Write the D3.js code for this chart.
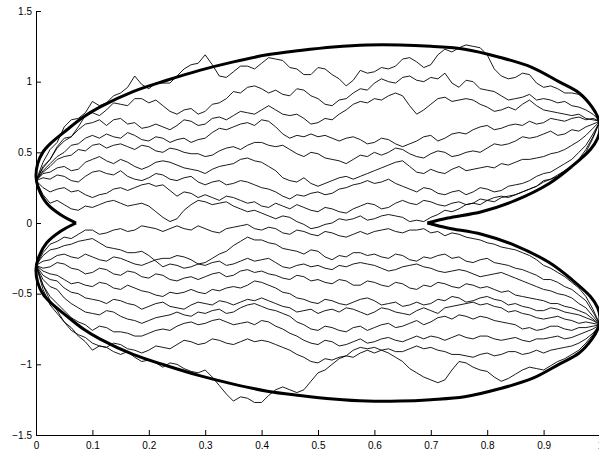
<!DOCTYPE html>
<html><head><meta charset="utf-8">
<script src="https://cdn.jsdelivr.net/npm/d3@7"></script>
<style>body{margin:0;background:#fff}svg{display:block}</style>
</head><body>
<svg id="chart" width="599" height="453"></svg>
<script>
// ---- data ----
const xTicks = [0,0.1,0.2,0.3,0.4,0.5,0.6,0.7,0.8,0.9,1];
const yTicks = [-1.5,-1,-0.5,0,0.5,1,1.5];
const xs = [
0,0.0125,0.025,0.0375,0.05,0.0625,0.075,0.0875,0.1,0.1125,
0.125,0.1375,0.15,0.1625,0.175,0.1875,0.2,0.2125,0.225,0.2375,
0.25,0.2625,0.275,0.2875,0.3,0.3125,0.325,0.3375,0.35,0.3625,
0.375,0.3875,0.4,0.4125,0.425,0.4375,0.45,0.4625,0.475,0.4875,
0.5,0.5125,0.525,0.5375,0.55,0.5625,0.575,0.5875,0.6,0.6125,
0.625,0.6375,0.65,0.6625,0.675,0.6875,0.7,0.7125,0.725,0.7375,
0.75,0.7625,0.775,0.7875,0.8,0.8125,0.825,0.8375,0.85,0.8625,
0.875,0.8875,0.9,0.9125,0.925,0.9375,0.95,0.9625,0.975,0.9875,
1];

const u1 = [
0.30,0.43,0.52,0.57,0.68,0.73,0.74,0.78,0.86,0.83,
0.85,0.90,0.92,0.96,1.04,0.98,0.95,0.99,0.99,0.99,
1.04,1.09,1.12,1.13,1.19,1.12,1.04,1.03,1.07,1.11,
1.11,1.09,1.13,1.17,1.16,1.15,1.10,1.09,1.05,1.05,
1.10,1.09,1.05,1.02,0.97,1.01,1.08,1.06,1.07,1.10,
1.09,1.11,1.16,1.17,1.14,1.10,1.12,1.19,1.23,1.21,
1.24,1.26,1.25,1.24,1.19,1.09,1.04,1.02,1.03,1.06,
1.05,0.99,0.96,0.97,0.95,0.92,0.92,0.91,0.87,0.82,
0.72];
const u2 = [
0.30,0.40,0.45,0.53,0.58,0.61,0.68,0.76,0.78,0.76,
0.80,0.85,0.84,0.83,0.88,0.88,0.85,0.87,0.83,0.79,
0.77,0.80,0.81,0.77,0.79,0.84,0.85,0.88,0.93,0.92,
0.96,0.97,0.95,0.92,0.94,0.91,0.90,0.95,0.94,0.90,
0.88,0.84,0.83,0.87,0.88,0.92,0.95,0.94,0.99,1.02,
1.00,0.99,1.03,1.04,1.01,1.00,1.03,1.02,1.06,0.99,
0.96,1.01,1.00,0.95,0.94,0.93,0.90,0.87,0.88,0.89,
0.91,0.87,0.88,0.87,0.85,0.86,0.83,0.82,0.80,0.77,
0.72];
const u3 = [
0.30,0.39,0.45,0.54,0.60,0.61,0.66,0.70,0.71,0.73,
0.69,0.73,0.74,0.70,0.71,0.67,0.68,0.70,0.68,0.66,
0.69,0.73,0.72,0.69,0.70,0.74,0.75,0.73,0.76,0.79,
0.78,0.77,0.80,0.83,0.80,0.77,0.76,0.77,0.74,0.70,
0.71,0.74,0.73,0.77,0.80,0.84,0.86,0.85,0.88,0.87,
0.90,0.92,0.90,0.83,0.77,0.80,0.84,0.88,0.89,0.86,
0.87,0.88,0.87,0.84,0.82,0.79,0.80,0.82,0.80,0.84,
0.87,0.83,0.80,0.79,0.78,0.77,0.76,0.77,0.74,0.73,
0.72];
const u4 = [
0.30,0.37,0.42,0.47,0.50,0.55,0.56,0.60,0.62,0.60,
0.63,0.61,0.60,0.64,0.62,0.59,0.58,0.61,0.60,0.57,
0.59,0.60,0.57,0.59,0.60,0.64,0.67,0.66,0.68,0.70,
0.71,0.69,0.73,0.72,0.68,0.63,0.60,0.62,0.61,0.63,
0.61,0.62,0.60,0.58,0.60,0.61,0.59,0.56,0.57,0.60,
0.59,0.56,0.54,0.56,0.58,0.61,0.62,0.58,0.60,0.63,
0.64,0.63,0.66,0.68,0.69,0.66,0.67,0.69,0.70,0.69,
0.72,0.70,0.71,0.74,0.73,0.72,0.74,0.75,0.73,0.74,
0.72];
const u5 = [
0.30,0.36,0.40,0.45,0.47,0.48,0.52,0.51,0.55,0.56,
0.53,0.55,0.56,0.54,0.52,0.55,0.54,0.51,0.50,0.53,
0.52,0.50,0.49,0.49,0.47,0.48,0.51,0.53,0.54,0.52,
0.55,0.57,0.57,0.55,0.54,0.55,0.52,0.49,0.47,0.50,
0.49,0.46,0.45,0.44,0.42,0.45,0.48,0.47,0.50,0.48,
0.50,0.53,0.52,0.49,0.47,0.46,0.49,0.51,0.50,0.47,
0.48,0.50,0.51,0.50,0.53,0.56,0.55,0.56,0.58,0.61,
0.60,0.61,0.63,0.65,0.62,0.63,0.66,0.65,0.68,0.70,
0.72];
const u6 = [
0.30,0.35,0.36,0.39,0.40,0.37,0.38,0.43,0.45,0.47,
0.44,0.42,0.45,0.43,0.40,0.38,0.40,0.43,0.44,0.43,
0.41,0.39,0.38,0.37,0.35,0.38,0.40,0.41,0.42,0.45,
0.46,0.44,0.43,0.40,0.37,0.32,0.30,0.29,0.32,0.28,
0.26,0.28,0.30,0.32,0.33,0.31,0.33,0.35,0.37,0.39,
0.41,0.43,0.44,0.40,0.36,0.35,0.38,0.36,0.35,0.38,
0.40,0.37,0.38,0.39,0.40,0.39,0.42,0.41,0.43,0.45,
0.45,0.46,0.47,0.49,0.50,0.52,0.55,0.58,0.62,0.67,
0.72];
const u7 = [
0.30,0.32,0.31,0.34,0.33,0.30,0.29,0.33,0.36,0.37,
0.35,0.34,0.37,0.33,0.31,0.30,0.32,0.35,0.34,0.31,
0.30,0.32,0.33,0.29,0.27,0.29,0.30,0.27,0.28,0.30,
0.29,0.27,0.25,0.24,0.22,0.19,0.17,0.20,0.19,0.21,
0.22,0.20,0.21,0.24,0.25,0.27,0.28,0.30,0.28,0.29,
0.31,0.28,0.26,0.24,0.22,0.25,0.24,0.21,0.20,0.22,
0.23,0.20,0.22,0.25,0.24,0.22,0.23,0.26,0.27,0.28,
0.30,0.33,0.35,0.36,0.39,0.42,0.45,0.50,0.55,0.63,
0.72];
const u8 = [
0.30,0.25,0.22,0.24,0.25,0.22,0.23,0.20,0.18,0.20,
0.21,0.24,0.25,0.23,0.25,0.27,0.28,0.26,0.27,0.23,
0.19,0.22,0.21,0.18,0.20,0.18,0.16,0.19,0.18,0.16,
0.14,0.15,0.12,0.11,0.14,0.12,0.10,0.13,0.11,0.09,
0.08,0.11,0.10,0.08,0.07,0.10,0.12,0.14,0.13,0.10,
0.11,0.14,0.16,0.14,0.13,0.16,0.15,0.13,0.12,0.14,
0.15,0.13,0.14,0.17,0.16,0.15,0.18,0.19,0.20,0.22,
0.24,0.26,0.30,0.31,0.33,0.37,0.40,0.45,0.52,0.61,
0.72];
const u9 = [
0.30,0.20,0.14,0.16,0.13,0.10,0.09,0.12,0.11,0.13,
0.15,0.16,0.14,0.12,0.13,0.14,0.12,0.08,0.04,0.01,
0.03,0.09,0.13,0.16,0.15,0.13,0.14,0.15,0.12,0.10,
0.08,0.09,0.07,0.05,0.03,0.05,0.04,0.01,-0.01,-0.04,
-0.03,-0.01,0.00,0.03,0.02,0.03,0.05,0.02,0.03,0.05,
0.06,0.05,0.04,0.01,0.02,0.01,0.04,0.06,0.09,0.08,
0.10,0.13,0.14,0.13,0.16,0.18,0.19,0.18,0.20,0.22,
0.24,0.26,0.29,0.31,0.34,0.37,0.40,0.44,0.50,0.60,
0.72];

const l1 = [
-0.30,-0.21,-0.15,-0.13,-0.10,-0.11,-0.08,-0.05,-0.05,-0.08,
-0.07,-0.05,-0.04,-0.06,-0.05,-0.02,-0.03,-0.04,-0.06,-0.04,
-0.02,-0.04,-0.05,-0.02,-0.04,-0.06,-0.07,-0.04,-0.03,-0.02,
-0.01,-0.04,-0.05,-0.03,-0.04,-0.07,-0.08,-0.05,-0.06,-0.08,
-0.09,-0.06,-0.07,-0.09,-0.10,-0.08,-0.06,-0.08,-0.06,-0.05,
-0.04,-0.06,-0.07,-0.05,-0.05,-0.04,-0.07,-0.06,-0.09,-0.07,
-0.08,-0.10,-0.11,-0.12,-0.14,-0.15,-0.17,-0.18,-0.19,-0.21,
-0.23,-0.26,-0.30,-0.32,-0.35,-0.38,-0.42,-0.46,-0.52,-0.61,
-0.72];
const l2 = [
-0.30,-0.23,-0.19,-0.18,-0.16,-0.15,-0.13,-0.12,-0.11,-0.14,
-0.17,-0.18,-0.19,-0.21,-0.21,-0.20,-0.23,-0.27,-0.31,-0.29,
-0.30,-0.32,-0.31,-0.29,-0.28,-0.25,-0.22,-0.20,-0.16,-0.13,
-0.10,-0.12,-0.12,-0.14,-0.15,-0.18,-0.19,-0.20,-0.22,-0.19,
-0.20,-0.24,-0.26,-0.23,-0.24,-0.21,-0.21,-0.23,-0.22,-0.24,
-0.25,-0.22,-0.23,-0.26,-0.27,-0.24,-0.25,-0.23,-0.22,-0.25,
-0.24,-0.27,-0.28,-0.26,-0.25,-0.28,-0.29,-0.30,-0.32,-0.33,
-0.35,-0.37,-0.40,-0.40,-0.42,-0.45,-0.47,-0.51,-0.55,-0.63,
-0.72];
const l3 = [
-0.30,-0.27,-0.26,-0.23,-0.22,-0.24,-0.25,-0.22,-0.24,-0.26,
-0.27,-0.24,-0.25,-0.27,-0.29,-0.30,-0.28,-0.26,-0.25,-0.25,
-0.23,-0.24,-0.26,-0.29,-0.30,-0.28,-0.27,-0.30,-0.29,-0.27,
-0.25,-0.27,-0.26,-0.25,-0.28,-0.31,-0.32,-0.30,-0.29,-0.31,
-0.30,-0.32,-0.33,-0.30,-0.31,-0.29,-0.28,-0.29,-0.30,-0.32,
-0.34,-0.33,-0.31,-0.30,-0.29,-0.31,-0.32,-0.34,-0.35,-0.34,
-0.33,-0.34,-0.36,-0.38,-0.37,-0.36,-0.35,-0.37,-0.39,-0.41,
-0.43,-0.45,-0.47,-0.48,-0.50,-0.51,-0.53,-0.57,-0.60,-0.66,
-0.72];
const l4 = [
-0.30,-0.32,-0.31,-0.28,-0.29,-0.32,-0.33,-0.36,-0.35,-0.32,
-0.33,-0.36,-0.37,-0.34,-0.35,-0.38,-0.39,-0.36,-0.37,-0.40,
-0.41,-0.39,-0.38,-0.40,-0.38,-0.36,-0.35,-0.38,-0.37,-0.34,
-0.33,-0.35,-0.34,-0.36,-0.37,-0.39,-0.40,-0.37,-0.38,-0.41,
-0.40,-0.42,-0.43,-0.40,-0.41,-0.44,-0.44,-0.41,-0.42,-0.44,
-0.45,-0.42,-0.43,-0.46,-0.47,-0.44,-0.45,-0.42,-0.43,-0.45,
-0.46,-0.43,-0.44,-0.46,-0.45,-0.47,-0.49,-0.48,-0.51,-0.52,
-0.53,-0.54,-0.55,-0.57,-0.57,-0.59,-0.60,-0.62,-0.64,-0.68,
-0.72];
const l5 = [
-0.30,-0.34,-0.36,-0.37,-0.40,-0.43,-0.42,-0.44,-0.45,-0.42,
-0.43,-0.46,-0.47,-0.44,-0.46,-0.48,-0.49,-0.51,-0.52,-0.49,
-0.50,-0.49,-0.47,-0.49,-0.50,-0.47,-0.48,-0.46,-0.45,-0.46,
-0.44,-0.41,-0.42,-0.44,-0.46,-0.49,-0.50,-0.53,-0.54,-0.56,
-0.57,-0.54,-0.55,-0.57,-0.58,-0.56,-0.54,-0.53,-0.55,-0.58,
-0.57,-0.56,-0.59,-0.58,-0.56,-0.58,-0.57,-0.54,-0.55,-0.52,
-0.53,-0.56,-0.55,-0.53,-0.52,-0.54,-0.55,-0.58,-0.57,-0.59,
-0.60,-0.62,-0.62,-0.60,-0.61,-0.63,-0.64,-0.65,-0.67,-0.69,
-0.72];
const l6 = [
-0.30,-0.37,-0.40,-0.41,-0.46,-0.49,-0.50,-0.53,-0.54,-0.55,
-0.57,-0.54,-0.55,-0.57,-0.58,-0.61,-0.59,-0.57,-0.56,-0.59,
-0.60,-0.61,-0.58,-0.56,-0.57,-0.58,-0.55,-0.56,-0.58,-0.56,
-0.54,-0.55,-0.53,-0.55,-0.57,-0.59,-0.60,-0.63,-0.62,-0.61,
-0.64,-0.62,-0.61,-0.63,-0.60,-0.61,-0.63,-0.65,-0.63,-0.60,
-0.61,-0.63,-0.64,-0.65,-0.62,-0.60,-0.62,-0.64,-0.60,-0.59,
-0.58,-0.57,-0.56,-0.58,-0.57,-0.59,-0.60,-0.63,-0.62,-0.64,
-0.65,-0.67,-0.68,-0.67,-0.66,-0.68,-0.69,-0.71,-0.70,-0.71,
-0.72];
const l7 = [
-0.30,-0.40,-0.45,-0.47,-0.53,-0.57,-0.60,-0.63,-0.64,-0.65,
-0.62,-0.63,-0.66,-0.68,-0.69,-0.71,-0.69,-0.67,-0.66,-0.65,
-0.63,-0.65,-0.66,-0.63,-0.64,-0.62,-0.61,-0.64,-0.63,-0.60,
-0.58,-0.57,-0.59,-0.61,-0.62,-0.64,-0.66,-0.70,-0.72,-0.75,
-0.76,-0.73,-0.74,-0.76,-0.77,-0.74,-0.73,-0.76,-0.74,-0.72,
-0.71,-0.74,-0.73,-0.71,-0.69,-0.72,-0.70,-0.67,-0.66,-0.68,
-0.65,-0.66,-0.68,-0.66,-0.67,-0.69,-0.70,-0.71,-0.72,-0.75,
-0.74,-0.76,-0.75,-0.73,-0.73,-0.75,-0.76,-0.74,-0.74,-0.73,
-0.72];
const l8 = [
-0.30,-0.44,-0.52,-0.57,-0.62,-0.67,-0.70,-0.72,-0.76,-0.73,
-0.74,-0.77,-0.77,-0.78,-0.80,-0.80,-0.78,-0.76,-0.75,-0.76,
-0.73,-0.71,-0.70,-0.72,-0.71,-0.69,-0.68,-0.70,-0.72,-0.71,
-0.70,-0.72,-0.69,-0.70,-0.73,-0.75,-0.78,-0.80,-0.83,-0.85,
-0.86,-0.83,-0.84,-0.87,-0.86,-0.84,-0.82,-0.85,-0.84,-0.82,
-0.81,-0.83,-0.84,-0.82,-0.80,-0.82,-0.80,-0.81,-0.83,-0.81,
-0.79,-0.81,-0.82,-0.80,-0.80,-0.82,-0.83,-0.82,-0.81,-0.83,
-0.84,-0.82,-0.82,-0.81,-0.80,-0.82,-0.81,-0.79,-0.77,-0.75,
-0.72];
const l9 = [
-0.30,-0.47,-0.58,-0.64,-0.70,-0.76,-0.79,-0.81,-0.85,-0.87,
-0.88,-0.85,-0.86,-0.89,-0.90,-0.92,-0.90,-0.87,-0.88,-0.89,
-0.86,-0.83,-0.84,-0.86,-0.85,-0.82,-0.83,-0.85,-0.86,-0.84,
-0.82,-0.84,-0.83,-0.84,-0.86,-0.88,-0.90,-0.93,-0.95,-0.98,
-0.99,-0.96,-0.97,-0.95,-0.94,-0.95,-0.92,-0.90,-0.92,-0.90,
-0.89,-0.91,-0.91,-0.89,-0.87,-0.89,-0.88,-0.90,-0.91,-0.93,
-0.93,-0.94,-0.95,-0.93,-0.92,-0.94,-0.93,-0.91,-0.91,-0.93,
-0.92,-0.90,-0.92,-0.90,-0.89,-0.88,-0.87,-0.85,-0.82,-0.78,
-0.72];
const l10 = [
-0.30,-0.44,-0.55,-0.62,-0.70,-0.74,-0.80,-0.84,-0.90,-0.87,
-0.88,-0.91,-0.93,-0.91,-0.95,-0.98,-0.97,-0.99,-1.02,-0.99,
-1.00,-1.03,-1.05,-1.06,-1.04,-1.09,-1.15,-1.21,-1.26,-1.23,
-1.24,-1.27,-1.27,-1.22,-1.18,-1.16,-1.18,-1.20,-1.18,-1.12,
-1.06,-1.04,-1.00,-0.96,-0.94,-0.90,-0.88,-0.89,-0.88,-0.90,
-0.92,-0.95,-0.98,-1.03,-1.06,-1.09,-1.11,-1.13,-1.11,-1.04,
-0.98,-0.99,-1.02,-1.04,-1.05,-1.09,-1.12,-1.10,-1.07,-1.04,
-1.02,-1.03,-1.04,-1.01,-0.98,-0.96,-0.93,-0.90,-0.85,-0.79,
-0.72];

const upperLobeX = [0.071,0.043,0.019,0.004,0.0,0.003,0.012,0.025,0.055,0.084,0.113,0.172,0.232,0.29,0.35,0.41,0.468,0.527,0.587,0.645,0.70,0.76,0.82,0.88,0.927,0.963,0.986,0.997,1.0,0.996,0.983,0.95,0.91,0.85,0.79,0.73,0.694];
const upperLobeY = [0.0,0.06,0.14,0.25,0.33,0.42,0.50,0.56,0.66,0.75,0.82,0.93,1.01,1.08,1.14,1.19,1.22,1.245,1.26,1.26,1.25,1.23,1.175,1.10,1.0,0.92,0.82,0.74,0.67,0.60,0.52,0.40,0.28,0.16,0.08,0.035,0.0];
const lowerLobeX = [0.071,0.043,0.019,0.004,0.0,0.003,0.012,0.025,0.055,0.084,0.113,0.172,0.232,0.29,0.35,0.41,0.468,0.527,0.587,0.645,0.70,0.76,0.82,0.88,0.927,0.963,0.986,0.997,1.0,0.996,0.983,0.95,0.91,0.85,0.79,0.73,0.694];
const lowerLobeY = [0.0,-0.06,-0.14,-0.25,-0.33,-0.42,-0.50,-0.56,-0.66,-0.75,-0.82,-0.93,-1.01,-1.08,-1.14,-1.19,-1.22,-1.245,-1.26,-1.26,-1.25,-1.23,-1.175,-1.10,-1.0,-0.92,-0.82,-0.74,-0.67,-0.60,-0.52,-0.40,-0.28,-0.16,-0.08,-0.035,0.0];

const paths = [u1,u2,u3,u4,u5,u6,u7,u8,u9,l1,l2,l3,l4,l5,l6,l7,l8,l9,l10];

// ---- drawing ----
const svg = d3.select("#chart");
const x = d3.scaleLinear().domain([0,1]).range([36,600]);
const y = d3.scaleLinear().domain([-1.5,1.5]).range([435,11]);

const line = d3.line().defined((d,i)=>i<xs.length).x((d,i)=>x(xs[i])).y(d=>y(d));
svg.append("g").selectAll("path").data(paths).join("path")
  .attr("d", d=>line(d))
  .attr("fill","none").attr("stroke","#000").attr("stroke-width",0.9)
  .attr("stroke-linejoin","round");

const bline = d3.line().curve(d3.curveCatmullRom.alpha(0.5));
[[upperLobeX,upperLobeY],[lowerLobeX,lowerLobeY]].forEach(([bx,by])=>{
  svg.append("path")
    .attr("d", bline(bx.map((v,i)=>[x(v), y(by[i])])))
    .attr("fill","none").attr("stroke","#000").attr("stroke-width",3)
    .attr("stroke-linejoin","miter");
});

const fmt = d => String(d).replace("-","\u2212");
const gx = svg.append("g").attr("transform","translate(0,435)")
  .call(d3.axisBottom(x).tickValues(xTicks).tickFormat(fmt).tickSize(-5).tickSizeOuter(0).tickPadding(7));
const gy = svg.append("g").attr("transform","translate(36,0)")
  .call(d3.axisLeft(y).tickValues(yTicks).tickFormat(fmt).tickSize(-5).tickSizeOuter(0).tickPadding(4));
[gx,gy].forEach(g=>{
  g.selectAll("text").attr("font-family","'Liberation Sans', Arial, sans-serif").attr("font-size",10).attr("fill","#000");
  g.selectAll("line,path").attr("stroke","#000");
});
</script>
</body></html>
